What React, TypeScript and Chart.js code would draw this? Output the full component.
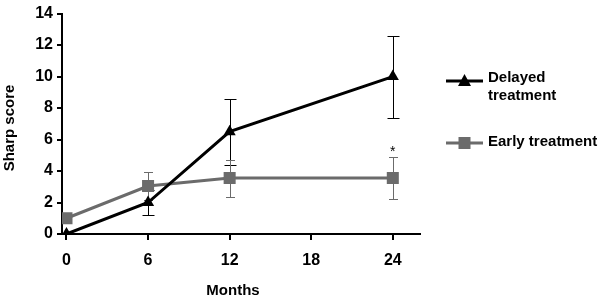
import React, { useEffect, useRef } from "react";
import { Chart, registerables } from "chart.js";

Chart.register(...registerables);

const months = [0, 6, 12, 24];
const xTicks = [0, 6, 12, 18, 24];
const yTicks = [0, 2, 4, 6, 8, 10, 12, 14];
const delayed = [0, 2, 6.5, 10];
const delayedErr = [0, 0.8, 2.1, 2.6];
const early = [1, 3.05, 3.55, 3.55];
const earlyErr = [0, 0.9, 1.17, 1.35];
const delayedLabel = ["Delayed", "treatment"];
const earlyLabel = ["Early treatment"];
const sigIndex = [3];
const xTitle = "Months";
const yTitle = "Sharp score";

const FONT = "'Liberation Sans', Arial, sans-serif";
const GRAY = "#6b6b6b";

const errs = [delayedErr, earlyErr];
const capHalf = [6, 4.5];
const errColors = ["#000", GRAY];

const errorBarPlugin = {
  id: "errorBars",
  beforeDatasetsDraw(chart: any) {
    const ctx = chart.ctx;
    const y = chart.scales.y;
    chart.data.datasets.forEach((ds: any, di: number) => {
      const meta = chart.getDatasetMeta(di);
      ctx.save();
      ctx.strokeStyle = errColors[di];
      ctx.lineWidth = 1;
      meta.data.forEach((pt: any, i: number) => {
        const e = errs[di][i];
        if (!e) return;
        const v = ds.data[i].y;
        const yt = Math.round(y.getPixelForValue(v + e)) + 0.5;
        const yb = Math.round(y.getPixelForValue(v - e)) + 0.5;
        const x = Math.round(pt.x) + 0.5;
        ctx.beginPath();
        ctx.moveTo(x, yt);
        ctx.lineTo(x, yb);
        ctx.moveTo(x - capHalf[di], yt);
        ctx.lineTo(x + capHalf[di], yt);
        ctx.moveTo(x - capHalf[di], yb);
        ctx.lineTo(x + capHalf[di], yb);
        ctx.stroke();
      });
      ctx.restore();
    });
  },
  afterDraw(chart: any) {
    const ctx = chart.ctx;
    const area = chart.chartArea;
    const xs = chart.scales.x;
    const ys = chart.scales.y;
    ctx.save();
    // asterisks
    ctx.fillStyle = "#000";
    ctx.font = `14px ${FONT}`;
    ctx.textAlign = "center";
    ctx.textBaseline = "alphabetic";
    sigIndex.forEach((i) => {
      const px = xs.getPixelForValue(months[i]);
      const py = ys.getPixelForValue(early[i] + earlyErr[i]);
      ctx.fillText("*", px, py - 1);
    });
    // axis titles
    ctx.font = `bold 15px ${FONT}`;
    ctx.textBaseline = "middle";
    ctx.fillText(xTitle, 233, 291);
    ctx.save();
    ctx.translate(10, 128);
    ctx.rotate(-Math.PI / 2);
    ctx.fillText(yTitle, 0, 0);
    ctx.restore();
    // legend
    const lx = area.right + 26;
    const entries = [
      { label: delayedLabel, color: "#000", style: "triangle", y: 81, ty: 78 },
      { label: earlyLabel, color: GRAY, style: "rect", y: 143, ty: 142 },
    ];
    entries.forEach((en) => {
      ctx.strokeStyle = en.color;
      ctx.fillStyle = en.color;
      ctx.lineWidth = 3;
      ctx.beginPath();
      ctx.moveTo(lx, en.y);
      ctx.lineTo(lx + 37, en.y);
      ctx.stroke();
      const cx = lx + 18.5;
      ctx.beginPath();
      if (en.style === "triangle") {
        ctx.moveTo(cx, en.y - 7);
        ctx.lineTo(cx + 6.5, en.y + 5);
        ctx.lineTo(cx - 6.5, en.y + 5);
        ctx.closePath();
      } else {
        ctx.rect(cx - 6, en.y - 6, 12, 12);
      }
      ctx.fill();
      ctx.fillStyle = "#000";
      ctx.font = `bold 15px ${FONT}`;
      ctx.textAlign = "left";
      ctx.textBaseline = "middle";
      en.label.forEach((t, k) => {
        ctx.fillText(t, lx + 42, en.ty + k * 18);
      });
    });
    ctx.restore();
  },
};

export default function App() {
  const ref = useRef<HTMLCanvasElement>(null);
  useEffect(() => {
    document.body.style.margin = "0";
    const chart = new Chart(ref.current as HTMLCanvasElement, {
      type: "line",
      data: {
        datasets: [
          {
            label: delayedLabel.join(" "),
            data: months.map((m, i) => ({ x: m, y: delayed[i] })),
            borderColor: "#000",
            backgroundColor: "#000",
            borderWidth: 3,
            pointStyle: "triangle",
            pointRadius: 7,
            pointBorderWidth: 0,
            tension: 0,
          },
          {
            label: earlyLabel.join(" "),
            data: months.map((m, i) => ({ x: m, y: early[i] })),
            borderColor: GRAY,
            backgroundColor: GRAY,
            borderWidth: 3,
            pointStyle: "rect",
            pointRadius: 8.5,
            pointBorderWidth: 0,
            tension: 0,
          },
        ],
      },
      options: {
        animation: false,
        responsive: false,
        layout: { padding: { left: 0, right: 180, top: 11, bottom: 0 } },
        plugins: { legend: { display: false }, tooltip: { enabled: false } },
        scales: {
          x: {
            type: "linear",
            min: -0.33,
            max: 26,
            afterBuildTicks: (s: any) => {
              s.ticks = xTicks.map((v) => ({ value: v }));
            },
            afterFit: (s: any) => {
              s.height = 69;
            },
            grid: { drawOnChartArea: false, drawTicks: true, tickLength: 6, color: "#000", lineWidth: 2 },
            border: { display: true, color: "#000", width: 2 },
            ticks: {
              color: "#000",
              font: { family: FONT, size: 16, weight: "bold" },
              padding: 11,
              maxRotation: 0,
              autoSkip: false,
            },
          },
          y: {
            min: 0,
            max: 14,
            afterBuildTicks: (s: any) => {
              s.ticks = yTicks.map((v) => ({ value: v }));
            },
            afterFit: (s: any) => {
              s.width = 62;
            },
            grid: { drawOnChartArea: false, drawTicks: true, tickLength: 5, color: "#000", lineWidth: 2 },
            border: { display: true, color: "#000", width: 2 },
            ticks: {
              color: "#000",
              font: { family: FONT, size: 16, weight: "bold" },
              padding: 4,
              autoSkip: false,
            },
          },
        },
      } as any,
      plugins: [errorBarPlugin],
    });
    return () => chart.destroy();
  }, []);
  return (
    <div style={{ position: "fixed", left: 0, top: 0, width: 600, height: 303 }}>
      <canvas ref={ref} width={600} height={303} />
    </div>
  );
}
